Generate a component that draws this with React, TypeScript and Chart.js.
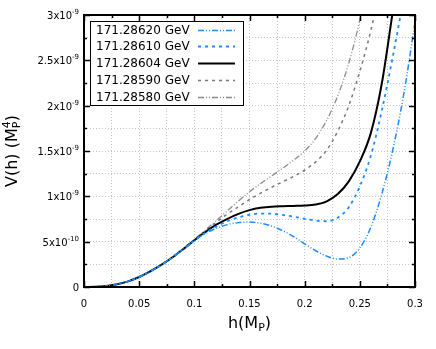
import { useEffect, useRef } from 'react';
import { Chart, registerables } from 'chart.js';

Chart.register(...registerables);

// h values (M_P)
const hValues = [0, 0.01, 0.02, 0.03, 0.04, 0.05, 0.06, 0.07, 0.08, 0.09, 0.1, 0.11, 0.12, 0.13, 0.14, 0.15, 0.16, 0.17, 0.18, 0.19, 0.2, 0.21, 0.22, 0.23, 0.24, 0.25, 0.26, 0.27, 0.28, 0.29, 0.3];

// V(h) in units of 1e-9 M_P^4
const v28620 = [0, 0.002, 0.01, 0.03, 0.062, 0.11, 0.172, 0.243, 0.325, 0.416, 0.51, 0.59, 0.648, 0.688, 0.71, 0.716, 0.703, 0.672, 0.622, 0.556, 0.475, 0.4, 0.34, 0.308, 0.325, 0.43, 0.66, 1.03, 1.52, 2.14, 2.92];
const v28610 = [0, 0.002, 0.01, 0.03, 0.062, 0.11, 0.172, 0.243, 0.325, 0.417, 0.513, 0.598, 0.668, 0.725, 0.768, 0.797, 0.81, 0.808, 0.795, 0.775, 0.752, 0.732, 0.725, 0.765, 0.88, 1.11, 1.45, 1.95, 2.55, 3.2];
const v28604 = [0, 0.002, 0.01, 0.03, 0.062, 0.11, 0.172, 0.243, 0.325, 0.418, 0.515, 0.607, 0.687, 0.752, 0.807, 0.848, 0.873, 0.886, 0.891, 0.894, 0.898, 0.91, 0.945, 1.025, 1.165, 1.385, 1.7, 2.25, 3.05];
const v28590 = [0, 0.002, 0.01, 0.03, 0.062, 0.11, 0.172, 0.243, 0.326, 0.42, 0.52, 0.62, 0.715, 0.805, 0.885, 0.965, 1.035, 1.1, 1.16, 1.22, 1.29, 1.38, 1.51, 1.72, 2.0, 2.38, 2.83, 3.4];
const v28580 = [0, 0.002, 0.01, 0.03, 0.062, 0.11, 0.172, 0.244, 0.327, 0.423, 0.525, 0.628, 0.733, 0.84, 0.948, 1.05, 1.14, 1.225, 1.31, 1.4, 1.5, 1.64, 1.84, 2.11, 2.47, 2.95, 3.6];

const seriesLabels = ['171.28620 GeV', '171.28610 GeV', '171.28604 GeV', '171.28590 GeV', '171.28580 GeV'];
const seriesValues = [v28620, v28610, v28604, v28590, v28580];
const seriesColors = ['#1e8cff', '#1e8cff', '#000000', '#7a7a7a', '#8c8c8c'];
const seriesDash = [[6, 2, 1, 2, 1, 2], [3, 4], [], [3, 4], [6, 2, 1, 2, 1, 2]];
const seriesWidth = [1.5, 1.8, 2, 1.5, 1.3];

const xTickLabels = ['0', '0.05', '0.1', '0.15', '0.2', '0.25', '0.3'];
const yTickBase = ['0', '5x10', '1x10', '1.5x10', '2x10', '2.5x10', '3x10'];
const yTickExp = ['', '-10', '-9', '-9', '-9', '-9', '-9'];

const FONT = 'DejaVu Sans';

const framePlugin = {
  id: 'framePlugin',
  afterDraw(chart: any) {
    const ctx = chart.ctx as CanvasRenderingContext2D;
    const { left, right, top, bottom } = chart.chartArea;
    const xs = chart.scales.x;
    const ys = chart.scales.y;
    ctx.save();
    ctx.strokeStyle = '#000';
    // ticks
    ctx.lineWidth = 1.5;
    for (let i = 0; i <= 12; i++) {
      const v = i * 0.025;
      const px = Math.round(xs.getPixelForValue(v)) + 0.5;
      const len = i % 2 === 0 ? 6 : 3;
      ctx.beginPath();
      ctx.moveTo(px, bottom);
      ctx.lineTo(px, bottom - len);
      ctx.moveTo(px, top);
      ctx.lineTo(px, top + len);
      ctx.stroke();
    }
    for (let i = 0; i <= 12; i++) {
      const v = i * 0.25;
      const py = Math.round(ys.getPixelForValue(v)) + 0.5;
      const len = i % 2 === 0 ? 6 : 3;
      ctx.beginPath();
      ctx.moveTo(left, py);
      ctx.lineTo(left + len, py);
      ctx.moveTo(right, py);
      ctx.lineTo(right - len, py);
      ctx.stroke();
    }
    // frame
    ctx.lineWidth = 2;
    ctx.strokeRect(left, top, right - left, bottom - top);

    // x tick labels
    ctx.fillStyle = '#000';
    ctx.font = `10px "${FONT}"`;
    ctx.textAlign = 'center';
    ctx.textBaseline = 'alphabetic';
    xTickLabels.forEach((t, i) => {
      ctx.fillText(t, xs.getPixelForValue(i * 0.05), 307);
    });

    // y tick labels with superscript exponents
    yTickBase.forEach((b, i) => {
      const py = ys.getPixelForValue(i * 0.5);
      const e = yTickExp[i];
      ctx.font = `10px "${FONT}"`;
      const wb = ctx.measureText(b).width;
      ctx.font = `7px "${FONT}"`;
      const we = e ? ctx.measureText(e).width : 0;
      const rightX = 79;
      const startX = rightX - wb - we;
      ctx.textAlign = 'left';
      ctx.font = `10px "${FONT}"`;
      ctx.fillText(b, startX, py + 4);
      if (e) {
        ctx.font = `7px "${FONT}"`;
        ctx.fillText(e, startX + wb, py - 1);
      }
    });

    // x title h(M_P)
    {
      const parts = [
        { t: 'h(M', size: 16, dy: 0 },
        { t: 'P', size: 11, dy: 3 },
        { t: ')', size: 16, dy: 0 },
      ];
      let total = 0;
      parts.forEach((p) => {
        ctx.font = `${p.size}px "${FONT}"`;
        total += ctx.measureText(p.t).width;
      });
      let x = (left + right) / 2 - total / 2;
      ctx.textAlign = 'left';
      parts.forEach((p) => {
        ctx.font = `${p.size}px "${FONT}"`;
        ctx.fillText(p.t, x, 328 + p.dy);
        x += ctx.measureText(p.t).width;
      });
    }

    // y title V(h) (M_P^4)
    {
      const parts = [
        { t: 'V(h) (M', size: 16, dy: 0 },
        { t: 'P', size: 11, dy: 3 },
        { t: '4', size: 11, dy: -7 },
        { t: ')', size: 16, dy: 0 },
      ];
      let total = 0;
      const widths: number[] = [];
      parts.forEach((p, i) => {
        ctx.font = `${p.size}px "${FONT}"`;
        const w = ctx.measureText(p.t).width;
        widths.push(w);
        if (i !== 1) total += w;
      });
      ctx.save();
      ctx.translate(17, (top + bottom) / 2);
      ctx.rotate(-Math.PI / 2);
      let x = -total / 2;
      parts.forEach((p, i) => {
        ctx.font = `${p.size}px "${FONT}"`;
        ctx.fillText(p.t, x, p.dy);
        if (i !== 1) x += widths[i];
      });
      ctx.restore();
    }

    // legend
    const lx = 90, ly = 21, lw = 153, lh = 84;
    ctx.fillStyle = '#fff';
    ctx.fillRect(lx, ly, lw, lh);
    ctx.strokeStyle = '#000';
    ctx.lineWidth = 1;
    ctx.strokeRect(lx + 0.5, ly + 0.5, lw, lh);
    seriesLabels.forEach((lab, i) => {
      const cy = 29.5 + i * 16.8;
      ctx.fillStyle = '#000';
      ctx.font = `12px "${FONT}"`;
      ctx.textAlign = 'left';
      ctx.textBaseline = 'middle';
      ctx.fillText(lab, 96, cy + 1);
      ctx.strokeStyle = seriesColors[i];
      ctx.lineWidth = seriesWidth[i];
      ctx.setLineDash(seriesDash[i]);
      ctx.beginPath();
      ctx.moveTo(198, Math.round(cy) + 0.5);
      ctx.lineTo(235, Math.round(cy) + 0.5);
      ctx.stroke();
      ctx.setLineDash([]);
    });
    ctx.restore();
  },
};

export default function App() {
  const ref = useRef<HTMLCanvasElement>(null);
  useEffect(() => {
    document.body.style.margin = '0';
    const canvas = ref.current;
    if (!canvas) return;
    const datasets = seriesValues.map((vals, i) => ({
      label: seriesLabels[i],
      data: vals.map((v, j) => ({ x: hValues[j], y: v })),
      borderColor: seriesColors[i],
      borderWidth: seriesWidth[i],
      borderDash: seriesDash[i],
      pointRadius: 0,
      fill: false,
      cubicInterpolationMode: 'monotone' as const,
    }));
    const chart = new Chart(canvas, {
      type: 'line',
      data: { datasets },
      options: {
        animation: false,
        responsive: false,
        devicePixelRatio: 1,
        layout: { padding: { left: 84, right: 21, top: 15, bottom: 62 } },
        plugins: { legend: { display: false }, tooltip: { enabled: false } },
        scales: {
          x: {
            type: 'linear',
            min: 0,
            max: 0.3,
            ticks: { display: false, stepSize: 0.025 },
            grid: { color: '#c4c4c4', lineWidth: 1, drawTicks: false },
            border: { display: false, dash: [1, 2] },
          },
          y: {
            type: 'linear',
            min: 0,
            max: 3,
            ticks: { display: false, stepSize: 0.25 },
            grid: { color: '#c4c4c4', lineWidth: 1, drawTicks: false },
            border: { display: false, dash: [1, 2] },
          },
        },
      },
      plugins: [framePlugin],
    });
    return () => chart.destroy();
  }, []);
  return (
    <div style={{ width: 436, height: 349 }}>
      <canvas ref={ref} width={436} height={349} style={{ display: 'block' }} />
    </div>
  );
}
